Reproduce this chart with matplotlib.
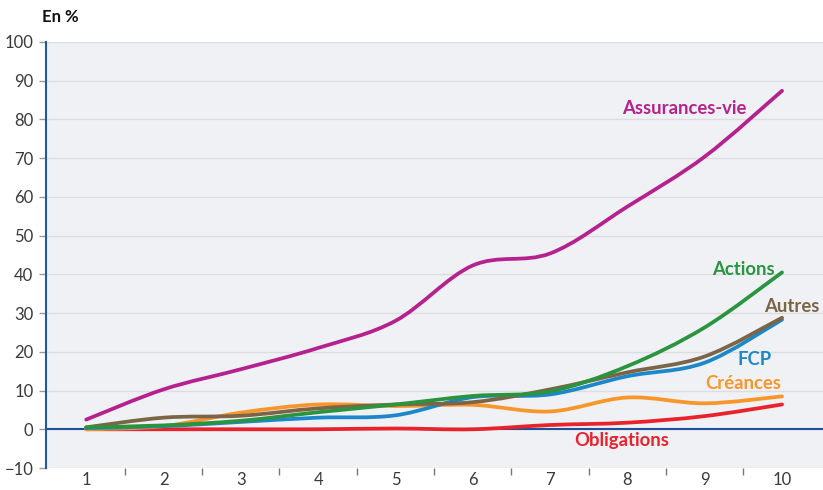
import matplotlib
matplotlib.use("Agg")
import matplotlib.pyplot as plt
from matplotlib.path import Path
from matplotlib.patches import PathPatch
import numpy as np

plt.rcParams['font.family'] = ['Lato', 'DejaVu Sans']

years = [1, 2, 3, 4, 5, 6, 7, 8, 9, 10]
assurances_vie = [2.5, 10.3, 15.5, 21.0, 28.0, 42.3, 45.4, 57.5, 70.4, 87.4]
actions = [0.5, 1.0, 2.2, 4.4, 6.4, 8.6, 9.8, 16.3, 26.3, 40.5]
autres = [0.5, 3.0, 3.5, 5.4, 6.4, 7.0, 10.3, 14.7, 18.8, 28.8]
fcp = [0.3, 0.8, 1.9, 3.0, 3.6, 8.3, 9.0, 13.7, 17.2, 28.3]
creances = [0.0, 0.8, 4.3, 6.4, 6.0, 6.3, 4.6, 8.2, 6.7, 8.5]
obligations = [0.0, 0.0, 0.0, 0.0, 0.2, 0.0, 1.1, 1.7, 3.4, 6.4]

series = [
    ("Obligations", obligations, "#E8232B", (7.92, -4.3)),
    ("Créances", creances, "#F7962A", (9.5, 10.3)),
    ("FCP", fcp, "#1C87C9", (9.645, 16.5)),
    ("Autres", autres, "#7B6546", (10.13, 30.3)),
    ("Actions", actions, "#2A9441", (9.5, 39.9)),
    ("Assurances-vie", assurances_vie, "#B5228F", (8.74, 81.4)),
]


def smooth_path(x, y):
    # Catmull-Rom passe par chaque point, rendu en bezier cubique
    p = np.column_stack([x, y]).astype(float)
    ext = np.vstack([p[0], p, p[-1]])
    verts = [p[0]]
    codes = [Path.MOVETO]
    for i in range(len(p) - 1):
        p0, p1, p2, p3 = ext[i], ext[i + 1], ext[i + 2], ext[i + 3]
        c1 = p1 + (p2 - p0) / 6.0
        c2 = p2 - (p3 - p1) / 6.0
        verts += [c1, c2, p2]
        codes += [Path.CURVE4] * 3
    return Path(verts, codes)


fig = plt.figure(figsize=(8.23, 4.9), dpi=100)
ax = fig.add_axes([46 / 823, 22 / 490, 777 / 823, 426 / 490])
ax.set_facecolor("#F0F1F4")

ax.set_xlim(0.48, 10.53)
ax.set_ylim(-10, 100)
ax.set_yticks(range(-10, 101, 10))
ax.set_xticks(years)
ax.set_xticks(np.arange(1.5, 10.5, 1), minor=True)
ax.tick_params(axis='x', which='major', length=0, pad=3, labelsize=12, labelcolor="#3A3A3A")
ax.tick_params(axis='x', which='minor', length=5, width=1, color="#777777", direction='out')
ax.tick_params(axis='y', length=5, width=1, color="#999999", labelsize=12, labelcolor="#3A3A3A", pad=4)
ax.grid(axis='y', color="#DCDDE2", linewidth=1)
ax.set_axisbelow(True)

for s in ["top", "right", "bottom"]:
    ax.spines[s].set_visible(False)
ax.spines["left"].set_color("#2456A8")
ax.spines["left"].set_linewidth(1.5)

ax.axhline(0, color="#1F4E9B", linewidth=1.5, zorder=2)

for name, vals, col, (lx, ly) in series:
    patch = PathPatch(smooth_path(years, vals), facecolor="none", edgecolor=col,
                      linewidth=2.7, capstyle="round", joinstyle="round", zorder=3)
    ax.add_patch(patch)
    ax.text(lx, ly, name, color=col, fontsize=13.3, fontweight="bold",
            ha="center", va="baseline", zorder=4)

fig.text(42 / 823, 1 - 17 / 490, "En %", fontsize=12, fontweight="bold",
         color="#111111", ha="left", va="center")

fig.savefig("out.png", dpi=100)
